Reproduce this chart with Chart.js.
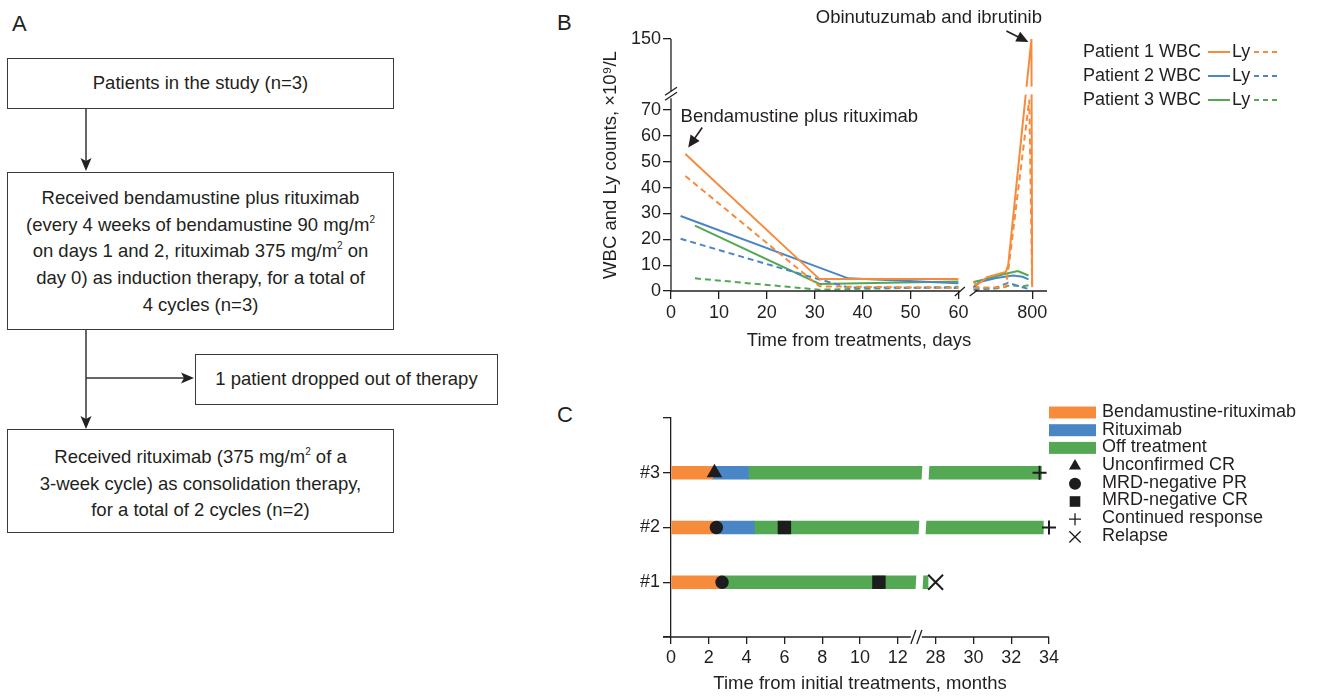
<!DOCTYPE html>
<html>
<head>
<meta charset="utf-8">
<script src="https://cdn.jsdelivr.net/npm/chart.js@4.4.1/dist/chart.umd.min.js"></script>
<style>
  body { margin: 0; background: #fff; font-family: Arial, "Liberation Sans", sans-serif; color: #231f20; }
  #page { position: relative; width: 1317px; height: 697px; overflow: hidden; background: #fff; }
  .lbl { position: absolute; font-size: 22px; line-height: 22px; }
  .box { position: absolute; box-sizing: border-box; border: 1.5px solid #3a3a3a; text-align: center;
         font-size: 18.5px; line-height: 26.7px; }
  .mid { display: flex; align-items: center; justify-content: center; }
  sup { font-size: 10px; line-height: 0; vertical-align: 8px; }
  canvas { position: absolute; }
  svg { position: absolute; left: 0; top: 0; }
</style>
</head>
<body>
<div id="page">
  <div class="lbl" style="left:12px;top:13px">A</div>
  <div class="lbl" style="left:557px;top:12px">B</div>
  <div class="lbl" style="left:557px;top:404px">C</div>

  <div class="box mid" style="left:7px;top:58px;width:387px;height:51px">Patients in the study (n=3)</div>
  <div class="box" style="left:7px;top:172px;width:387px;height:158px;padding-top:12px">
    Received bendamustine plus rituximab<br>
    (every 4 weeks of bendamustine 90 mg/m<sup>2</sup><br>
    on days 1 and 2, rituximab 375 mg/m<sup>2</sup> on<br>
    day 0) as induction therapy, for a total of<br>
    4 cycles (n=3)
  </div>
  <div class="box mid" style="left:195px;top:354px;width:303px;height:51px">1 patient dropped out of therapy</div>
  <div class="box" style="left:7px;top:429px;width:387px;height:104px;padding-top:14px">
    Received rituximab (375 mg/m<sup>2</sup> of a<br>
    3-week cycle) as consolidation therapy,<br>
    for a total of 2 cycles (n=2)
  </div>
  <svg width="560" height="697">
    <g stroke="#333" stroke-width="1.5">
      <line x1="86" y1="109" x2="86" y2="162"/>
      <line x1="86" y1="330" x2="86" y2="420"/>
      <line x1="86" y1="378" x2="186" y2="378"/>
    </g>
    <g fill="#222">
      <polygon points="80.5,158 86,171 91.5,158 86,161"/>
      <polygon points="80.5,416 86,429 91.5,416 86,419"/>
      <polygon points="181,372.5 194,378 181,383.5 184,378"/>
    </g>
  </svg>

  <canvas id="chartB" width="720" height="360" style="left:580px;top:0"></canvas>
  <canvas id="chartC" width="720" height="312" style="left:590px;top:385px"></canvas>
</div>

<script>
// Panel B: [day, count (x10^9/L)]
const p1Wbc = [[3, 53], [31, 4.6], [60, 4.6], [555, 3.6], [568, 2.2], [612, 5.4], [690, 7.4], [700, 10], [797, 150], [800, 1.5]];
const p1Ly = [[3, 44.5], [31, 1.8], [60, 1.2], [555, 1.2], [690, 1.5], [703, 10], [788, 74], [800, 1.5]];
const p2Wbc = [[2, 29], [37, 4.9], [60, 3], [555, 1.5], [580, 3.5], [650, 5], [720, 6], [760, 5.5], [785, 4.5]];
const p2Ly = [[2, 20.2], [30, 5], [37, 1.4], [60, 1.2], [555, 0.5], [640, 1], [700, 3.2], [740, 2], [785, 0.8]];
const p3Wbc = [[5, 25.3], [31, 2.7], [60, 3.7], [555, 3.5], [600, 4.5], [680, 6.5], [740, 7.7], [785, 6]];
const p3Ly = [[5, 4.9], [31, 0.5], [60, 1.6], [555, 1.5], [650, 1], [710, 2.2], [760, 1.8], [785, 2.2]];
const bXTicks = [0, 10, 20, 30, 40, 50, 60, 800];
const bYTicks = [0, 10, 20, 30, 40, 50, 60, 70, 150];
const bLegend = ['Patient 1 WBC', 'Patient 2 WBC', 'Patient 3 WBC'];

// Panel C: months from initial treatment
const patients = ['#1', '#2', '#3'];
const brEnd = [2.6, 2.4, 2.2];
const rituxEnd = [null, 4.4, 4.1];
const offEnd = [27.6, 33.7, 33.6];
const unconfirmedCR = [[2.3, 3]];
const mrdNegPR = [[2.7, 1], [2.4, 2]];
const mrdNegCR = [[11, 1], [6, 2]];
const continued = [[33.5, 3], [34, 2]];
const relapse = [[28, 1]];
const cXTicks = [0, 2, 4, 6, 8, 10, 12, 28, 30, 32, 34];
const cLegend = ['Bendamustine-rituximab', 'Rituximab', 'Off treatment', 'Unconfirmed CR',
  'MRD-negative PR', 'MRD-negative CR', 'Continued response', 'Relapse'];

const ORANGE = '#f68b3c', BLUE = '#4a86c5', GREEN = '#55a853', INK = '#231f20';
const FONT = 'Arial, "Liberation Sans", sans-serif';

Chart.defaults.font.family = FONT;
Chart.defaults.font.size = 18;
Chart.defaults.color = INK;
Chart.defaults.animation = false;
Chart.defaults.plugins.legend.display = false;
Chart.defaults.plugins.tooltip.enabled = false;

// broken axes: days > 60 are squeezed next to 800, counts > 75 are compressed
const bx = d => d <= 60 ? d : 75.4 + (d - 800) / 20;
const by = v => v <= 75 ? v : 75 + (v - 75) * 0.3;
// months 28..34 sit right after the break at 13
const cx = m => m <= 13 ? m : m - 14;

function bPoints(pairs) {
  const out = [];
  pairs.forEach(([d, v], i) => {
    if (i > 0 && pairs[i - 1][0] <= 60 && d > 60) out.push({x: 61.5, y: null});
    out.push({x: bx(d), y: by(v)});
  });
  return out;
}

function lineSet(pairs, color, dashed) {
  return {
    data: bPoints(pairs),
    borderColor: color,
    borderWidth: 2,
    borderDash: dashed ? [6, 4] : [],
    pointRadius: 0,
    fill: false,
    tension: 0
  };
}

function arrow(ctx, x1, y1, x2, y2) {
  const ang = Math.atan2(y2 - y1, x2 - x1);
  ctx.beginPath();
  ctx.moveTo(x1, y1);
  ctx.lineTo(x2 - 8 * Math.cos(ang), y2 - 8 * Math.sin(ang));
  ctx.stroke();
  ctx.beginPath();
  ctx.moveTo(x2, y2);
  ctx.lineTo(x2 - 12 * Math.cos(ang) + 5.5 * Math.sin(ang), y2 - 12 * Math.sin(ang) - 5.5 * Math.cos(ang));
  ctx.lineTo(x2 - 12 * Math.cos(ang) - 5.5 * Math.sin(ang), y2 - 12 * Math.sin(ang) + 5.5 * Math.cos(ang));
  ctx.closePath();
  ctx.fill();
}

function line(ctx, x1, y1, x2, y2) {
  ctx.beginPath();
  ctx.moveTo(x1, y1);
  ctx.lineTo(x2, y2);
  ctx.stroke();
}

const bDecor = {
  id: 'bDecor',
  afterDatasetsDraw(chart) {
    const {ctx, scales: {x, y}} = chart;
    const yLo = y.getPixelForValue(75.6), yHi = y.getPixelForValue(78.6);
    const xL = x.getPixelForValue(63), xR = x.getPixelForValue(78.5);
    ctx.save();
    ctx.fillStyle = '#fff';
    ctx.beginPath();
    ctx.moveTo(xL, yLo + 2);
    ctx.lineTo(xR, yLo - 2);
    ctx.lineTo(xR, yHi - 2);
    ctx.lineTo(xL, yHi + 2);
    ctx.closePath();
    ctx.fill();
    ctx.restore();
  },
  afterDraw(chart) {
    const {ctx, chartArea: a, scales: {x, y}} = chart;
    ctx.save();
    ctx.strokeStyle = INK;
    ctx.fillStyle = INK;
    ctx.lineWidth = 1.3;
    // y axis with break
    const yb = y.getPixelForValue(76.5);
    line(ctx, a.left, a.bottom, a.left, yb + 5);
    line(ctx, a.left, yb - 2, a.left, a.top);
    line(ctx, a.left - 6, yb + 7, a.left + 6, yb - 1);
    line(ctx, a.left - 6, yb + 2, a.left + 6, yb - 6);
    // x axis with break
    const x60 = x.getPixelForValue(60.3), x2 = x.getPixelForValue(63.4);
    line(ctx, a.left, a.bottom, x60, a.bottom);
    line(ctx, x2, a.bottom, a.right, a.bottom);
    line(ctx, x60 - 5, a.bottom + 5, x60 + 5, a.bottom - 4);
    line(ctx, x2 - 5, a.bottom + 5, x2 + 3, a.bottom - 1);

    // annotations
    ctx.font = '18.5px ' + FONT;
    ctx.textBaseline = 'middle';
    ctx.textAlign = 'left';
    ctx.fillText('Bendamustine plus rituximab', x.getPixelForValue(2), y.getPixelForValue(67.4));
    ctx.lineWidth = 1.6;
    const tx = x.getPixelForValue(3.6), ty = y.getPixelForValue(55.5);
    arrow(ctx, tx + 14, ty - 20, tx, ty);
    ctx.textAlign = 'right';
    ctx.fillText('Obinutuzumab and ibrutinib', a.right - 5, 17.5);
    const px = x.getPixelForValue(bx(797)) - 3, py = y.getPixelForValue(by(150)) + 3;
    arrow(ctx, px - 22, py - 11, px, py);

    // legend
    const colors = [ORANGE, BLUE, GREEN];
    ctx.font = '18px ' + FONT;
    ctx.textAlign = 'left';
    bLegend.forEach((label, i) => {
      const ry = 52 + i * 24;
      const lx = a.right + 36;
      ctx.fillStyle = INK;
      ctx.fillText(label, lx, ry);
      ctx.fillText('Ly', lx + 149, ry);
      ctx.strokeStyle = colors[i];
      ctx.lineWidth = 2;
      ctx.setLineDash([]);
      line(ctx, lx + 125, ry, lx + 147, ry);
      ctx.setLineDash([5, 4]);
      line(ctx, lx + 171, ry, lx + 195, ry);
      ctx.setLineDash([]);
    });
    ctx.restore();
  }
};

new Chart(document.getElementById('chartB'), {
  type: 'line',
  data: {
    datasets: [
      lineSet(p1Wbc, ORANGE), lineSet(p1Ly, ORANGE, true),
      lineSet(p2Wbc, BLUE), lineSet(p2Ly, BLUE, true),
      lineSet(p3Wbc, GREEN), lineSet(p3Ly, GREEN, true)
    ]
  },
  options: {
    responsive: false,
    layout: {padding: {left: 16, top: 39, right: 253, bottom: 6}},
    scales: {
      x: {
        type: 'linear', min: 0, max: 78.5,
        afterBuildTicks: s => { s.ticks = bXTicks.map(d => ({value: bx(d)})); },
        afterFit: s => { s.height = 63; },
        ticks: {callback: (v, i) => bXTicks[i], padding: 3, maxRotation: 0, autoSkip: false},
        grid: {drawOnChartArea: false, tickLength: 8, color: INK, lineWidth: 1.3},
        border: {display: false},
        title: {display: true, text: 'Time from treatments, days', font: {size: 18.5}, padding: {top: 0, bottom: 2}}
      },
      y: {
        type: 'linear', min: 0, max: 97.5,
        afterBuildTicks: s => { s.ticks = bYTicks.map(v => ({value: by(v)})); },
        afterFit: s => { s.width = 75; },
        ticks: {callback: (v, i) => bYTicks[i], padding: 2, autoSkip: false},
        grid: {drawOnChartArea: false, tickLength: 8, color: INK, lineWidth: 1.3},
        border: {display: false},
        title: {display: true, text: 'WBC and Ly counts, ×10⁹/L', font: {size: 18.5}, padding: {top: 4, bottom: 0}}
      }
    }
  },
  plugins: [bDecor]
});

// ---- Panel C ----
const barSet = (rows, color) => ({
  type: 'bar',
  data: rows,
  backgroundColor: color,
  borderWidth: 0,
  barThickness: 13,
  grouped: false
});

const markSet = (pts, style, radius, width) => ({
  type: 'scatter',
  indexAxis: 'x',
  clip: false,
  data: pts.map(([m, r]) => ({x: cx(m), y: r})),
  pointStyle: style,
  pointRadius: radius,
  backgroundColor: '#1d1d1d',
  borderColor: '#1d1d1d',
  borderWidth: width
});

const orangeRows = patients.map((p, i) => ({x: [0, cx(brEnd[i])], y: i + 1}));
const blueRows = patients.map((p, i) => rituxEnd[i] == null ? null : {x: [cx(brEnd[i]), cx(rituxEnd[i])], y: i + 1}).filter(Boolean);
const greenRows = patients.map((p, i) => ({x: [cx(rituxEnd[i] ?? brEnd[i]), cx(offEnd[i])], y: i + 1}));

const cDecor = {
  id: 'cDecor',
  afterDatasetsDraw(chart) {
    const {ctx, scales: {x, y}} = chart;
    // white slanted gap through the bars at the axis break
    const y1 = y.getPixelForValue(0.7), y3 = y.getPixelForValue(3.3);
    const slope = 6 / 109;
    const xb = x.getPixelForValue(12.96);
    const y0 = y.getPixelForValue(1);
    ctx.save();
    ctx.fillStyle = '#fff';
    ctx.beginPath();
    ctx.moveTo(xb + (y0 - y1) * slope, y1);
    ctx.lineTo(xb + (y0 - y3) * slope, y3);
    ctx.lineTo(xb + 7 + (y0 - y3) * slope, y3);
    ctx.lineTo(xb + 7 + (y0 - y1) * slope, y1);
    ctx.closePath();
    ctx.fill();
    ctx.restore();
  },
  afterDraw(chart) {
    const {ctx, chartArea: a, scales: {x}} = chart;
    const H = Chart.helpers;
    ctx.save();
    ctx.strokeStyle = INK;
    ctx.lineWidth = 1.3;
    // x axis with break
    const xb = x.getPixelForValue(12.85);
    line(ctx, a.left - 8, a.bottom, xb - 3, a.bottom);
    line(ctx, xb + 8, a.bottom, a.right, a.bottom);
    line(ctx, xb - 3, a.bottom + 7, xb + 2, a.bottom - 7);
    line(ctx, xb + 3, a.bottom + 7, xb + 8, a.bottom - 7);

    // legend
    const lx = a.right, top = a.top - 6, step = 17.7;
    const swatch = [ORANGE, BLUE, GREEN];
    const marks = [
      {pointStyle: 'triangle', radius: 7, borderWidth: 0},
      {pointStyle: 'circle', radius: 6, borderWidth: 0},
      {pointStyle: 'rect', radius: 7.5, borderWidth: 0},
      {pointStyle: 'cross', radius: 6, borderWidth: 1.6},
      {pointStyle: 'crossRot', radius: 8, borderWidth: 1.6}
    ];
    ctx.font = '18px ' + FONT;
    ctx.textBaseline = 'middle';
    ctx.textAlign = 'left';
    cLegend.forEach((label, i) => {
      const ry = top + i * step;
      if (i < 3) {
        ctx.fillStyle = swatch[i];
        ctx.fillRect(lx, ry - 5.5, 47, 12);
      } else {
        ctx.fillStyle = '#1d1d1d';
        ctx.strokeStyle = '#1d1d1d';
        H.drawPoint(ctx, {rotation: 0, ...marks[i - 3]}, lx + 26, ry + 1);
      }
      ctx.fillStyle = INK;
      ctx.fillText(label, lx + 53, ry);
    });
    ctx.restore();
  }
};

new Chart(document.getElementById('chartC'), {
  type: 'bar',
  data: {
    datasets: [
      markSet(unconfirmedCR, 'triangle', 9, 0),
      markSet(mrdNegPR, 'circle', 6.7, 0),
      markSet(mrdNegCR, 'rect', 9.5, 0),
      markSet(continued, 'cross', 7, 2),
      markSet(relapse, 'crossRot', 10.5, 2),
      barSet(orangeRows, ORANGE),
      barSet(blueRows, BLUE),
      barSet(greenRows, GREEN)
    ]
  },
  options: {
    responsive: false,
    indexAxis: 'y',
    layout: {padding: {left: 0, top: 33, right: 261, bottom: 0}},
    scales: {
      x: {
        type: 'linear', min: 0, max: 20,
        afterBuildTicks: s => { s.ticks = cXTicks.map(m => ({value: cx(m)})); },
        afterFit: s => { s.height = 60; },
        ticks: {callback: (v, i) => cXTicks[i], padding: 3, maxRotation: 0, autoSkip: false},
        grid: {drawOnChartArea: false, tickLength: 7, color: INK, lineWidth: 1.3},
        border: {display: false},
        title: {display: true, text: 'Time from initial treatments, months', font: {size: 18.5}, padding: {top: 0, bottom: 2}}
      },
      y: {
        type: 'linear', min: 0, max: 4, offset: false,
        afterBuildTicks: s => { s.ticks = [0, 1, 2, 3, 4].map(v => ({value: v})); },
        afterFit: s => { s.width = 81; },
        ticks: {callback: v => patients[v - 1] ?? '', padding: 3, autoSkip: false},
        grid: {drawOnChartArea: false, tickLength: 8, color: INK, lineWidth: 1.3, offset: false},
        border: {display: true, color: INK, width: 1.3}
      }
    }
  },
  plugins: [cDecor]
});
</script>
</body>
</html>
